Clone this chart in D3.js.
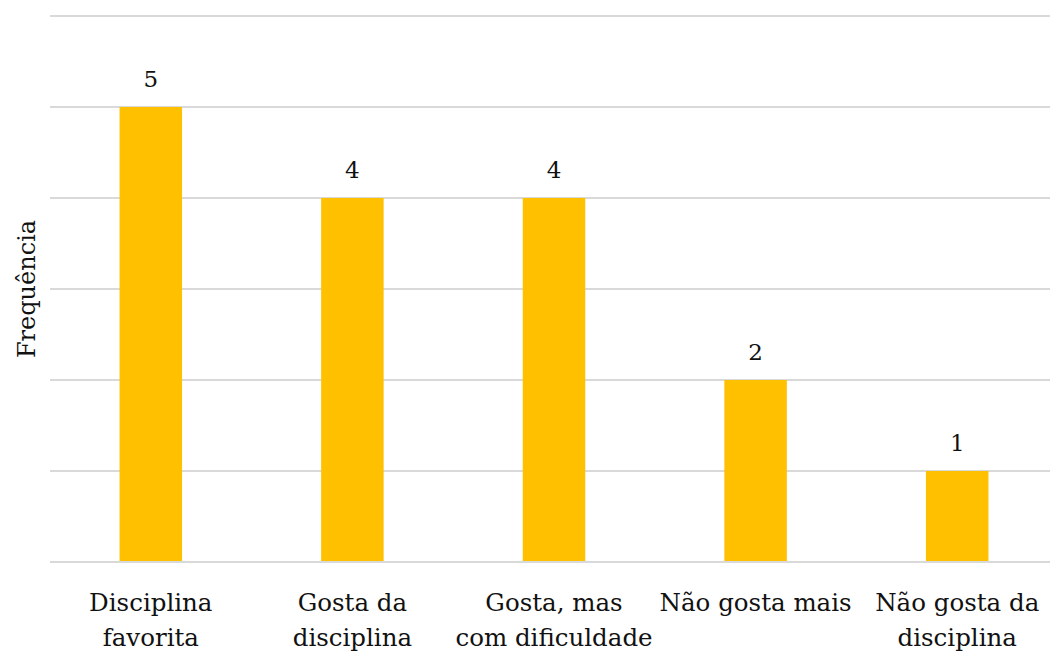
<!DOCTYPE html>
<html>
<head>
<meta charset="utf-8">
<script src="https://cdn.jsdelivr.net/npm/d3@7"></script>
<style>
  body { margin: 0; background: #fff; }
  text { font-family: "DejaVu Serif", serif; fill: #111; }
</style>
</head>
<body>
<div id="chart"></div>
<script>
// categories (each label split into its lines) and values
var categories = ["Disciplina favorita", "Gosta da disciplina", "Gosta, mas com dificuldade", "Não gosta mais", "Não gosta da disciplina"];
var labelLines = [["Disciplina", "favorita"], ["Gosta da", "disciplina"], ["Gosta, mas", "com dificuldade"], ["Não gosta mais"], ["Não gosta da", "disciplina"]];
var values = [5, 4, 4, 2, 1];
var yTicks = [0, 1, 2, 3, 4, 5, 6];

var width = 1050, height = 652;
var margin = {top: 16, right: -8, bottom: 90, left: 50};
var innerW = width - margin.left - margin.right,
    innerH = height - margin.top - margin.bottom;

var svg = d3.select("#chart")
  .append("svg")
    .attr("width", width)
    .attr("height", height)
  .append("g")
    .attr("transform", "translate(" + margin.left + "," + margin.top + ")");

var x = d3.scaleBand()
  .domain(categories)
  .range([0, innerW])
  .paddingInner(0.69)
  .paddingOuter(0.345);

var y = d3.scaleLinear()
  .domain([0, 6])
  .range([innerH, 0]);

// gridlines
svg.append("g")
  .selectAll("line")
  .data(yTicks)
  .enter()
  .append("line")
    .attr("x1", 0)
    .attr("x2", innerW)
    .attr("y1", function(d) { return y(d); })
    .attr("y2", function(d) { return y(d); })
    .attr("stroke", "#d9d9d9")
    .style("stroke-width", 2);

// bars
svg.selectAll("rect.bar")
  .data(values)
  .enter()
  .append("rect")
    .attr("class", "bar")
    .attr("x", function(d, i) { return x(categories[i]); })
    .attr("y", function(d) { return y(d); })
    .attr("width", x.bandwidth())
    .attr("height", function(d) { return y(0) - y(d) - 1; })
    .style("fill", "#ffc000");

// value labels
svg.selectAll("text.val")
  .data(values)
  .enter()
  .append("text")
    .attr("class", "val")
    .attr("x", function(d, i) { return x(categories[i]) + x.bandwidth() / 2; })
    .attr("y", function(d) { return y(d) - 20; })
    .attr("text-anchor", "middle")
    .style("font-size", "23px")
    .text(function(d) { return d; });

// category labels
var xAxis = svg.append("g")
  .attr("transform", "translate(0," + innerH + ")");
labelLines.forEach(function(lines, i) {
  var t = xAxis.append("text")
    .attr("x", x(categories[i]) + x.bandwidth() / 2)
    .attr("y", 49)
    .attr("text-anchor", "middle")
    .style("font-size", "24.5px");
  lines.forEach(function(l, j) {
    t.append("tspan")
      .attr("x", x(categories[i]) + x.bandwidth() / 2)
      .attr("dy", j === 0 ? 0 : 35)
      .text(l);
  });
});

// y axis label
svg.append("text")
  .attr("transform", "rotate(-90)")
  .attr("x", -(y(3)))
  .attr("y", -margin.left + 35)
  .attr("text-anchor", "middle")
  .style("font-size", "24px")
  .text("Frequência");
</script>
</body>
</html>
